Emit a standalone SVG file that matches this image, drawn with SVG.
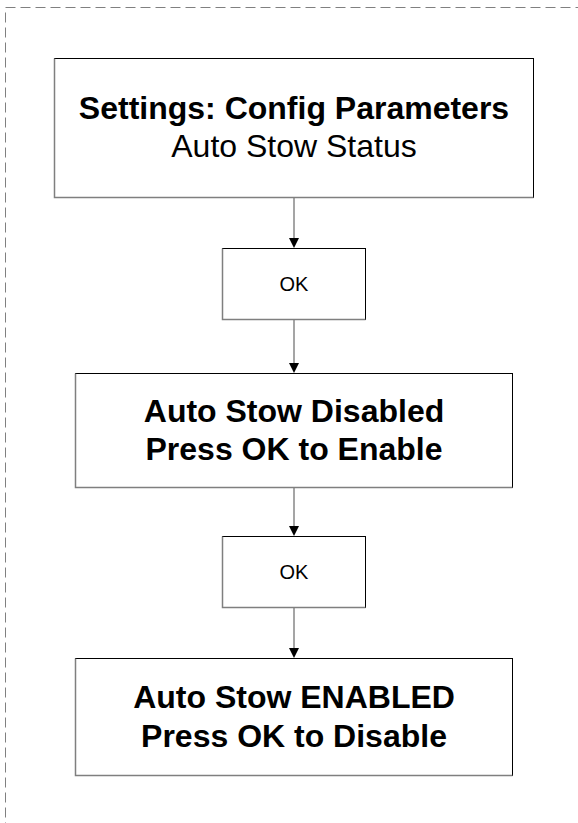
<svg xmlns="http://www.w3.org/2000/svg" width="578" height="823" viewBox="0 0 578 823">
  <style>
    .frame { fill: none; stroke: #808080; stroke-width: 1; stroke-dasharray: 10 5; }
    .box { fill: #ffffff; stroke: #000000; stroke-width: 1; }
    .shade { fill: none; stroke: #7f7f7f; stroke-width: 1.5; }
    .conn { fill: none; stroke: #7f7f7f; stroke-width: 1.4; }
    .head { fill: #000000; }
    .big { font-family: "Liberation Sans", Arial, sans-serif; font-size: 32px; font-weight: bold; fill: #000; text-anchor: middle; }
    .reg { font-family: "Liberation Sans", Arial, sans-serif; font-size: 32px; fill: #000; text-anchor: middle; }
    .small { font-family: "Liberation Sans", Arial, sans-serif; font-size: 20px; fill: #000; text-anchor: middle; }
  </style>
  <rect width="578" height="823" fill="#ffffff"/>
  <rect class="frame" x="5.5" y="7.5" width="600" height="840"/>

  <g id="connectors">
    <line class="conn" x1="294" y1="198" x2="294" y2="239"/>
    <polygon class="head" points="289,238 299,238 294,248"/>
    <line class="conn" x1="294" y1="320" x2="294" y2="364"/>
    <polygon class="head" points="289,363 299,363 294,373"/>
    <line class="conn" x1="294" y1="488" x2="294" y2="527"/>
    <polygon class="head" points="289,526 299,526 294,536"/>
    <line class="conn" x1="294" y1="608" x2="294" y2="649"/>
    <polygon class="head" points="289,648 299,648 294,658"/>
  </g>

  <g id="node-settings">
    <rect class="box" x="54.5" y="58.5" width="479" height="139"/>
    <path class="shade" d="M54.5,58.5 V197.5 H533.5"/>
    <text class="big" x="294" y="119">Settings: Config Parameters</text>
    <text class="reg" x="294" y="157">Auto Stow Status</text>
  </g>

  <g id="node-ok1">
    <rect class="box" x="222.5" y="248.5" width="143" height="71"/>
    <path class="shade" d="M222.5,248.5 V319.5 H365.5"/>
    <text class="small" x="294" y="291">OK</text>
  </g>

  <g id="node-disabled">
    <rect class="box" x="75.5" y="373.5" width="437" height="114"/>
    <path class="shade" d="M75.5,373.5 V487.5 H512.5"/>
    <text class="big" x="294" y="422">Auto Stow Disabled</text>
    <text class="big" x="294" y="460">Press OK to Enable</text>
  </g>

  <g id="node-ok2">
    <rect class="box" x="222.5" y="536.5" width="143" height="71"/>
    <path class="shade" d="M222.5,536.5 V607.5 H365.5"/>
    <text class="small" x="294" y="579">OK</text>
  </g>

  <g id="node-enabled">
    <rect class="box" x="75.5" y="658.5" width="437" height="117"/>
    <path class="shade" d="M75.5,658.5 V775.5 H512.5"/>
    <text class="big" x="294" y="708">Auto Stow ENABLED</text>
    <text class="big" x="294" y="747">Press OK to Disable</text>
  </g>
</svg>
